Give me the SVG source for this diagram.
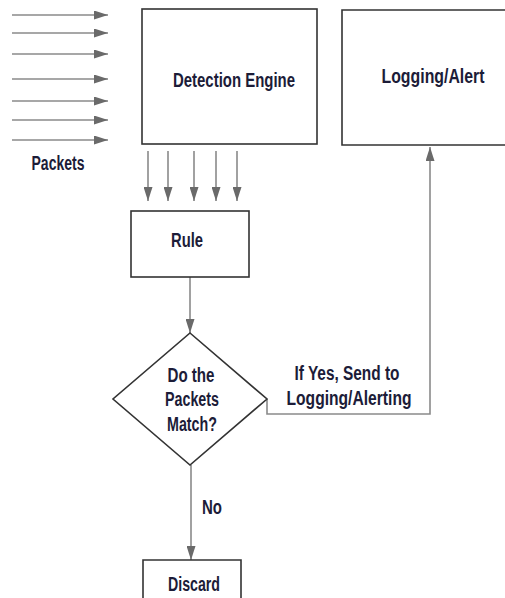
<svg xmlns="http://www.w3.org/2000/svg" width="505" height="598" viewBox="0 0 505 598">
<style>
.box{fill:#fff;stroke:#333;stroke-width:1.6}
.ln{fill:none;stroke:#8a8a8a;stroke-width:1.6}
.t{font-family:"Liberation Sans","Arial",sans-serif;font-weight:bold;font-size:20px;fill:#1c1c38;text-anchor:middle;dominant-baseline:central}
</style>
<defs>
<marker id="ah" viewBox="0 0 14 9" refX="14" refY="4.5" markerWidth="14" markerHeight="9" markerUnits="userSpaceOnUse" orient="auto">
<path d="M0,0 L14,4.5 L0,9 Z" fill="#6a6a6a"/>
</marker>
</defs>
<rect width="505" height="598" fill="#fff"/>
<g id="connectors">
<line class="ln" x1="12" y1="15" x2="108" y2="15" marker-end="url(#ah)"/>
<line class="ln" x1="12" y1="33" x2="108" y2="33" marker-end="url(#ah)"/>
<line class="ln" x1="12" y1="54" x2="108" y2="54" marker-end="url(#ah)"/>
<line class="ln" x1="12" y1="79" x2="108" y2="79" marker-end="url(#ah)"/>
<line class="ln" x1="12" y1="101" x2="108" y2="101" marker-end="url(#ah)"/>
<line class="ln" x1="12" y1="120" x2="108" y2="120" marker-end="url(#ah)"/>
<line class="ln" x1="12" y1="140" x2="108" y2="140" marker-end="url(#ah)"/>
<line class="ln" x1="148" y1="151" x2="148" y2="201" marker-end="url(#ah)"/>
<line class="ln" x1="168" y1="151" x2="168" y2="201" marker-end="url(#ah)"/>
<line class="ln" x1="194" y1="151" x2="194" y2="201" marker-end="url(#ah)"/>
<line class="ln" x1="216" y1="151" x2="216" y2="201" marker-end="url(#ah)"/>
<line class="ln" x1="237" y1="151" x2="237" y2="201" marker-end="url(#ah)"/>
<line class="ln" x1="190" y1="277" x2="190" y2="333" marker-end="url(#ah)"/>
<polyline class="ln" points="267,399 267,414 430,414 430,147" marker-end="url(#ah)"/>
<line class="ln" x1="191" y1="465" x2="191" y2="560" marker-end="url(#ah)"/>
</g>
<g id="packets"><text class="t" x="58" y="163" textLength="53" lengthAdjust="spacingAndGlyphs">Packets</text></g>
<g id="detection-engine">
<rect class="box" x="142" y="9" width="175" height="135"/>
<text class="t" x="234" y="80" textLength="122" lengthAdjust="spacingAndGlyphs">Detection Engine</text>
</g>
<g id="logging-alert">
<path class="box" d="M505,10 H342 V145 H505"/>
<text class="t" x="433" y="76" textLength="103" lengthAdjust="spacingAndGlyphs">Logging/Alert</text>
</g>
<g id="rule">
<rect class="box" x="131" y="211" width="118" height="66"/>
<text class="t" x="187" y="240" textLength="32" lengthAdjust="spacingAndGlyphs">Rule</text>
</g>
<g id="match">
<polygon class="box" points="190,333 267,399 190,465 113,399"/>
<text class="t" x="191" y="375" textLength="47" lengthAdjust="spacingAndGlyphs">Do the</text>
<text class="t" x="192" y="399" textLength="54" lengthAdjust="spacingAndGlyphs">Packets</text>
<text class="t" x="192" y="424" textLength="50" lengthAdjust="spacingAndGlyphs">Match?</text>
</g>
<g id="yes-label">
<text class="t" x="347" y="373" textLength="105" lengthAdjust="spacingAndGlyphs">If Yes, Send to</text>
<text class="t" x="349" y="398" textLength="125" lengthAdjust="spacingAndGlyphs">Logging/Alerting</text>
</g>
<g id="no-label"><text class="t" x="212" y="507" textLength="20" lengthAdjust="spacingAndGlyphs">No</text></g>
<g id="discard">
<path class="box" d="M143,598 V560 H241 V598"/>
<text class="t" x="194" y="584" textLength="52" lengthAdjust="spacingAndGlyphs">Discard</text>
</g>
</svg>
